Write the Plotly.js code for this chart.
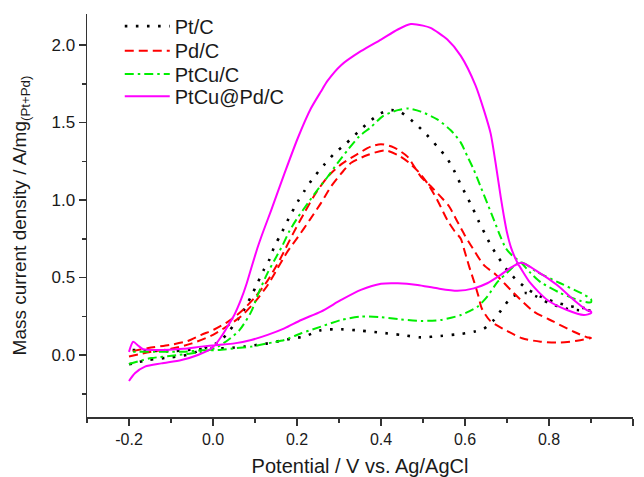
<!DOCTYPE html>
<html>
<head>
<meta charset="utf-8">
<script src="https://cdn.plot.ly/plotly-3.0.1.min.js"></script>
<style>html,body{margin:0;padding:0;background:#fff}#chart{width:644px;height:477px}</style>
</head>
<body>
<div id="chart"></div>
<script>
// Series names
const seriesNames = ["Pt/C", "Pd/C", "PtCu/C", "PtCu@Pd/C"];

// Pt/C (forward scan then reverse scan)
const ptcX = [-0.2,-0.19,-0.154,-0.1,-0.063,-0.04,-0.012,0.016,0.04,0.067,0.091,0.107,0.121,0.135,0.146,0.161,0.18,0.202,0.218,0.238,0.264,0.289,0.317,0.344,0.372,0.40,0.425,0.448,0.483,0.509,0.534,0.557,0.574,0.588,0.603,0.618,0.633,0.648,0.661,0.678,0.70,0.724,0.752,0.78,0.811,0.843,0.871,0.9,
  0.9,0.867,0.84,0.80,0.768,0.745,0.725,0.712,0.689,0.669,0.645,0.621,0.59,0.542,0.495,0.447,0.40,0.352,0.305,0.257,0.218,0.186,0.158,0.13,0.103,0.075,0.047,0.02,-0.008,-0.067,-0.095,-0.15,-0.182,-0.2];
const ptcY = [-0.06,-0.054,-0.032,-0.015,0.0,0.02,0.054,0.086,0.16,0.26,0.38,0.47,0.55,0.62,0.70,0.775,0.88,0.99,1.06,1.14,1.225,1.30,1.365,1.435,1.505,1.56,1.58,1.565,1.49,1.42,1.345,1.27,1.19,1.11,1.03,0.95,0.86,0.78,0.71,0.635,0.55,0.48,0.42,0.377,0.344,0.32,0.305,0.30,
  0.29,0.29,0.30,0.334,0.38,0.40,0.39,0.377,0.30,0.226,0.17,0.15,0.136,0.123,0.114,0.13,0.144,0.157,0.166,0.16,0.12,0.105,0.09,0.075,0.065,0.054,0.047,0.043,0.04,0.032,0.025,0.028,0.032,0.03];

// Pd/C
const pdcX = [-0.2,-0.15,-0.1,-0.05,0.0,0.036,0.067,0.099,0.13,0.154,0.178,0.202,0.23,0.257,0.281,0.305,0.329,0.368,0.41,0.44,0.467,0.49,0.51,0.534,0.558,0.575,0.59,0.598,0.61,0.622,0.632,0.64,0.66,0.69,0.736,0.78,0.827,0.867,0.9,
  0.89,0.859,0.811,0.764,0.716,0.673,0.645,0.618,0.6,0.582,0.562,0.546,0.518,0.495,0.479,0.463,0.43,0.40,0.376,0.34,0.305,0.273,0.245,0.218,0.19,0.16,0.13,0.099,0.067,0.036,0.004,-0.028,-0.06,-0.103,-0.154,-0.2];
const pdcY = [-0.01,0.02,0.04,0.075,0.13,0.19,0.25,0.34,0.45,0.56,0.67,0.76,0.87,0.98,1.087,1.17,1.24,1.29,1.32,1.29,1.24,1.18,1.11,1.0,0.87,0.80,0.75,0.68,0.57,0.47,0.38,0.30,0.22,0.17,0.108,0.086,0.08,0.092,0.11,
  0.115,0.15,0.215,0.28,0.40,0.52,0.58,0.69,0.77,0.86,0.96,1.01,1.09,1.15,1.216,1.28,1.34,1.36,1.345,1.29,1.23,1.15,1.045,0.92,0.78,0.62,0.48,0.37,0.28,0.215,0.166,0.13,0.09,0.065,0.045,0.02];

// PtCu/C
const ptcucX = [-0.2,-0.166,-0.147,-0.083,-0.028,0.004,0.036,0.063,0.091,0.11,0.13,0.146,0.166,0.182,0.2,0.226,0.249,0.273,0.297,0.32,0.348,0.376,0.404,0.44,0.465,0.495,0.534,0.566,0.59,0.606,0.621,0.637,0.653,0.669,0.685,0.697,0.713,0.732,0.756,0.78,0.827,0.874,0.9,
  0.9,0.883,0.827,0.772,0.745,0.73,0.70,0.677,0.653,0.629,0.59,0.542,0.495,0.447,0.40,0.352,0.305,0.257,0.21,0.17,0.13,0.091,0.051,0.012,-0.028,-0.071,-0.135,-0.19,-0.2];
const ptcucY = [-0.058,-0.032,-0.02,0.0,0.02,0.043,0.097,0.16,0.28,0.41,0.53,0.61,0.71,0.80,0.88,0.98,1.066,1.15,1.24,1.32,1.41,1.47,1.54,1.58,1.59,1.57,1.52,1.45,1.37,1.28,1.195,1.087,0.98,0.87,0.76,0.69,0.64,0.60,0.53,0.47,0.40,0.35,0.34,
  0.36,0.39,0.463,0.535,0.585,0.60,0.53,0.47,0.377,0.31,0.258,0.226,0.22,0.23,0.244,0.248,0.226,0.183,0.14,0.097,0.075,0.054,0.043,0.032,0.03,0.021,0.021,0.021,0.025];

// PtCu@Pd/C
const ptcupdX = [-0.2,-0.186,-0.162,-0.123,-0.075,-0.036,0.0,0.02,0.036,0.051,0.067,0.08,0.091,0.107,0.12,0.138,0.17,0.202,0.233,0.257,0.273,0.305,0.352,0.40,0.44,0.471,0.5,0.518,0.558,0.59,0.625,0.645,0.661,0.675,0.685,0.693,0.70,0.71,0.724,0.735,0.756,0.796,0.843,0.883,0.9,
  0.9,0.89,0.859,0.82,0.772,0.735,0.71,0.685,0.653,0.621,0.582,0.534,0.487,0.44,0.40,0.352,0.305,0.257,0.21,0.17,0.13,0.091,0.051,0.012,-0.028,-0.071,-0.135,-0.166,-0.178,-0.19,-0.2];
const ptcupdY = [-0.168,-0.118,-0.075,-0.054,-0.032,0.0,0.05,0.12,0.19,0.26,0.36,0.46,0.56,0.70,0.80,0.93,1.17,1.40,1.59,1.70,1.77,1.87,1.96,2.035,2.1,2.135,2.125,2.11,2.035,1.93,1.74,1.58,1.43,1.2,1.02,0.89,0.79,0.69,0.60,0.55,0.463,0.355,0.29,0.258,0.27,
  0.28,0.29,0.355,0.45,0.54,0.595,0.565,0.517,0.463,0.43,0.415,0.43,0.452,0.463,0.46,0.42,0.355,0.28,0.226,0.172,0.13,0.097,0.075,0.065,0.054,0.04,0.032,0.037,0.06,0.085,0.02];

// Axis ticks
const xTickVals = [-0.2, 0.0, 0.2, 0.4, 0.6, 0.8, 1.0];
const xTickText = ["-0.2", "0.0", "0.2", "0.4", "0.6", "0.8", "1.0"];
const yTickVals = [0.0, 0.5, 1.0, 1.5, 2.0];
const yTickText = ["0.0", "0.5", "1.0", "1.5", "2.0"];

const FONT = "Arial, 'Liberation Sans', sans-serif";
const TXT = "#1a1a1a";

const traces = [
  {x: ptcX, y: ptcY, name: seriesNames[0], mode: "lines", legend: "legend",
   line: {color: "#000000", width: 2.6, dash: "2.6px,8.5px", shape: "spline", smoothing: 0.7}},
  {x: pdcX, y: pdcY, name: seriesNames[1], mode: "lines", legend: "legend2",
   line: {color: "#ff0000", width: 2, dash: "9px,5px", shape: "spline", smoothing: 0.7}},
  {x: ptcucX, y: ptcucY, name: seriesNames[2], mode: "lines", legend: "legend3",
   line: {color: "#00ee00", width: 2, dash: "9px,4px,2.5px,4px", shape: "spline", smoothing: 0.7}},
  {x: ptcupdX, y: ptcupdY, name: seriesNames[3], mode: "lines", legend: "legend4",
   line: {color: "#ff00ff", width: 2, dash: "solid", shape: "spline", smoothing: 0.7}}
];

function legendAt(yPaper) {
  return {x: 0.06, y: yPaper, xanchor: "left", yanchor: "middle",
          font: {family: FONT, size: 20, color: TXT},
          bgcolor: "rgba(0,0,0,0)", itemwidth: 45, borderwidth: 0};
}

const layout = {
  width: 644, height: 477,
  margin: {l: 87, r: 11, t: 14, b: 60, autoexpand: false},
  paper_bgcolor: "#ffffff", plot_bgcolor: "#ffffff",
  font: {family: FONT, color: TXT, size: 16},
  showlegend: true,
  legend: legendAt(0.970),
  legend2: legendAt(0.909),
  legend3: legendAt(0.851),
  legend4: legendAt(0.796),
  xaxis: {
    range: [-0.3, 1.0], tickvals: xTickVals, ticktext: xTickText,
    showgrid: false, zeroline: false, showline: true, linecolor: "#333", linewidth: 1.5,
    ticks: "outside", ticklen: 7, tickwidth: 1.5, tickcolor: "#333",
    minor: {dtick: 0.1, tick0: 0, ticks: "outside", ticklen: 4, tickwidth: 1.5, tickcolor: "#333", showgrid: false},
    tickfont: {size: 16, family: FONT, color: TXT},
    title: {text: "Potential / V vs. Ag/AgCl", font: {size: 20, family: FONT, color: TXT}, standoff: 13}
  },
  yaxis: {
    range: [-0.4, 2.2], tickvals: yTickVals, ticktext: yTickText,
    showgrid: false, zeroline: false, showline: true, linecolor: "#333", linewidth: 1.5,
    ticks: "outside", ticklen: 7, tickwidth: 1.5, tickcolor: "#333",
    minor: {dtick: 0.25, tick0: 0, ticks: "outside", ticklen: 4, tickwidth: 1.5, tickcolor: "#333", showgrid: false},
    tickfont: {size: 17, family: FONT, color: TXT},
    title: {text: "Mass current density / A/mg<sub>(Pt+Pd)</sub>", font: {size: 19, family: FONT, color: TXT}, standoff: 20}
  }
};

Plotly.newPlot("chart", traces, layout, {displayModeBar: false, staticPlot: true});
</script>
</body>
</html>
